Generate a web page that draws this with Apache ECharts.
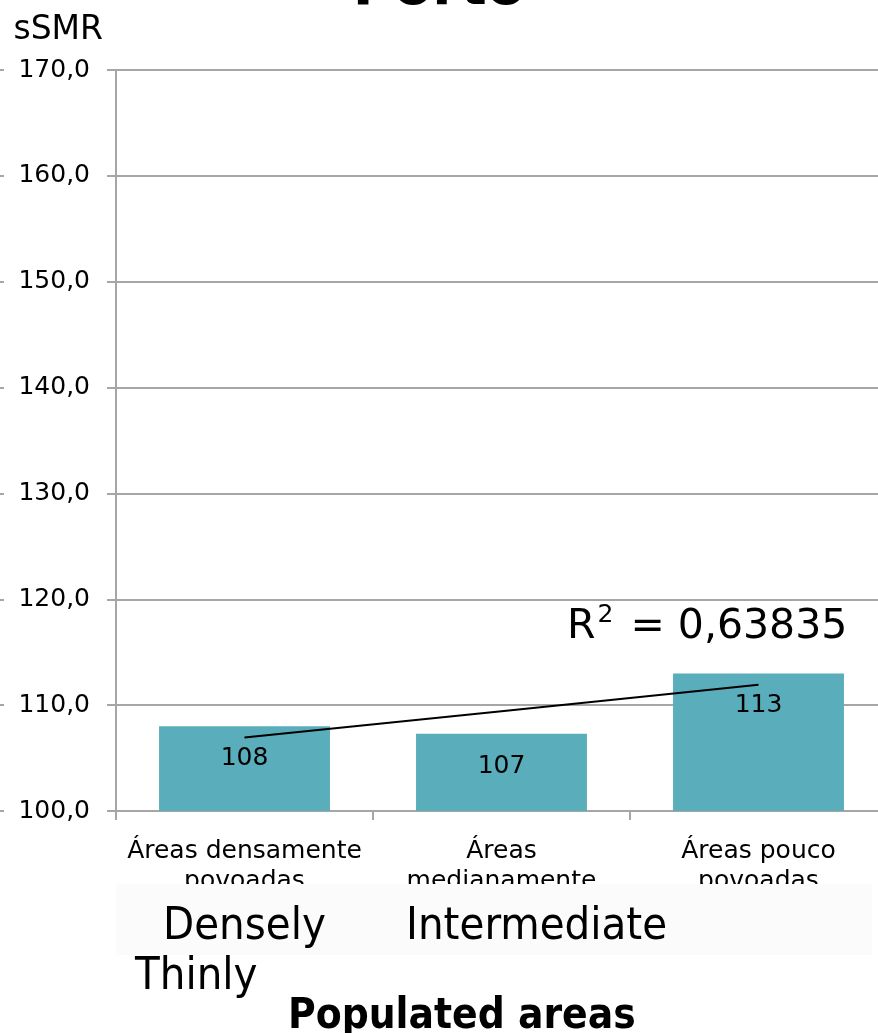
<!DOCTYPE html>
<html>
<head>
<meta charset="utf-8">
<script src="https://cdn.jsdelivr.net/npm/echarts@6/dist/echarts.min.js"></script>
<style>
  html, body { margin: 0; padding: 0; background: #ffffff; }
  #chart { width: 878px; height: 1033px; }
</style>
</head>
<body>
<div id="chart"></div>
<script>
// sSMR by population density, Porto
const categories = ['Áreas densamente povoadas', 'Áreas medianamente povoadas', 'Áreas pouco povoadas'];
const categoryLabels = ['Áreas densamente\npovoadas', 'Áreas\nmedianamente\npovoadas', 'Áreas pouco\npovoadas'];
const ssmrValues = [108.0, 107.3, 113.0];
const valueLabels = ['108', '107', '113'];
const yTicks = { min: 100, max: 170, interval: 10 };
const r2Text = '0,63835';
const englishLabels = ['Densely', 'Intermediate', 'Thinly'];
const englishAxisTitle = 'Populated areas';

// Least-squares linear trend over the category positions 1..n
function linearTrend(ys) {
  const n = ys.length;
  const xs = ys.map((_, i) => i + 1);
  const mx = xs.reduce((a, b) => a + b, 0) / n;
  const my = ys.reduce((a, b) => a + b, 0) / n;
  let sxy = 0, sxx = 0;
  for (let i = 0; i < n; i++) {
    sxy += (xs[i] - mx) * (ys[i] - my);
    sxx += (xs[i] - mx) * (xs[i] - mx);
  }
  const slope = sxy / sxx;
  return xs.map(x => my + slope * (x - mx));
}
const trendValues = linearTrend(ssmrValues);

const chart = echarts.init(document.getElementById('chart'), null, { renderer: 'canvas' });
const gridColor = '#a6a6a6';
const font = 'DejaVu Sans, Verdana, sans-serif';
const condensed = '"DejaVu Sans Condensed", "Liberation Sans Narrow", sans-serif';

chart.setOption({
  animation: false,
  backgroundColor: '#ffffff',
  title: {
    text: 'Porto',
    left: 'center',
    top: -44,
    textStyle: { fontFamily: font, fontSize: 56, fontWeight: 'bold', color: '#000' }
  },
  // the plot runs a little past the right edge of the page
  grid: { left: 116, width: 771, top: 70, bottom: 222, containLabel: false, outerBoundsMode: 'none' },
  xAxis: {
    type: 'category',
    data: categories,
    axisLine: { show: true, lineStyle: { color: gridColor, width: 2 } },
    axisTick: { show: true, length: 9, alignWithLabel: false, lineStyle: { color: gridColor, width: 2 } },
    axisLabel: {
      interval: 0,
      margin: 25,
      fontFamily: font,
      fontSize: 25,
      lineHeight: 30,
      color: '#000',
      formatter: (v, i) => categoryLabels[i]
    }
  },
  yAxis: [
    {
      type: 'value',
      min: yTicks.min,
      max: yTicks.max,
      interval: yTicks.interval,
      name: 'sSMR',
      nameLocation: 'end',
      nameGap: 23,
      nameTextStyle: {
        fontFamily: font, fontSize: 33, color: '#000',
        align: 'right', verticalAlign: 'bottom', padding: [0, 13, 0, 0]
      },
      axisLine: { show: true, lineStyle: { color: gridColor, width: 2 } },
      axisTick: { show: true, length: 9, lineStyle: { color: gridColor, width: 2 } },
      axisLabel: {
        margin: 26,
        fontFamily: font,
        fontSize: 25,
        color: '#000',
        padding: [8, 0, 0, 0],
        formatter: v => v.toFixed(1).replace('.', ',')
      },
      splitLine: { show: true, lineStyle: { color: gridColor, width: 2 } }
    },
    {
      // faint tick stubs along the far left edge
      type: 'value',
      position: 'left',
      offset: 112,
      min: yTicks.min,
      max: yTicks.max,
      interval: yTicks.interval,
      axisLine: { show: false },
      axisTick: { show: true, length: 4, lineStyle: { color: gridColor, width: 2 } },
      axisLabel: { show: false },
      splitLine: { show: false }
    }
  ],
  series: [
    {
      type: 'bar',
      data: ssmrValues,
      barWidth: '66.5%',
      itemStyle: { color: '#5aadba' },
      label: {
        show: true,
        position: 'insideTop',
        distance: 20,
        fontFamily: font,
        fontSize: 25,
        color: '#000',
        formatter: p => valueLabels[p.dataIndex]
      },
      z: 2
    },
    {
      type: 'line',
      data: trendValues,
      symbol: 'none',
      lineStyle: { color: '#000', width: 2 },
      z: 3
    }
  ],
  graphic: [
    {
      type: 'text',
      left: 567,
      top: 603,
      z: 10,
      style: {
        text: 'R{sup|2} = ' + r2Text,
        fontFamily: font,
        fontSize: 41,
        fill: '#000',
        rich: {
          sup: { fontFamily: font, fontSize: 25, fill: '#000', padding: [0, 4, 24, 2] }
        }
      }
    },
    {
      type: 'rect',
      shape: { x: 116, y: 884, width: 756, height: 71 },
      z: 20,
      style: { fill: '#fbfbfb' }
    },
    {
      type: 'text', x: 163, y: 905, z: 21,
      style: { text: englishLabels[0], fontFamily: condensed, fontSize: 45, fill: '#000' }
    },
    {
      type: 'text', x: 406, y: 905, z: 21,
      style: { text: englishLabels[1], fontFamily: condensed, fontSize: 45, fill: '#000' }
    },
    {
      type: 'text', x: 135, y: 955, z: 21,
      style: { text: englishLabels[2], fontFamily: condensed, fontSize: 45, fill: '#000' }
    },
    {
      type: 'text', x: 288, y: 996, z: 21,
      style: { text: englishAxisTitle, fontFamily: condensed, fontSize: 42, fontWeight: 'bold', fill: '#000' }
    }
  ]
});
</script>
</body>
</html>
